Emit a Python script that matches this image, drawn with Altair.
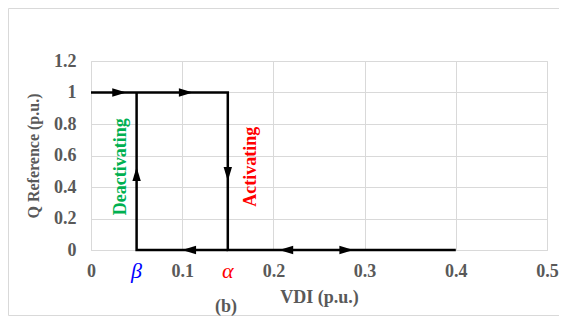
import altair as alt
import pandas as pd

# Hysteresis path (VDI, Q reference)
path_x = [0.0, 0.15, 0.15, 0.4]
path_y = [1.0, 1.0, 0.0, 0.0]
beta_x = [0.05, 0.05, 0.15]
beta_y = [1.0, 0.0, 0.0]

# Arrow heads: position and direction (degrees, clockwise from right)
arrow_x = [0.031, 0.104, 0.1075, 0.214, 0.28, 0.05, 0.15]
arrow_y = [1.0, 1.0, 0.0, 0.0, 0.0, 0.483, 0.483]
arrow_angle = [0, 0, 180, 180, 0, 270, 90]

x_ticks = [0, 0.1, 0.2, 0.3, 0.4, 0.5]
y_ticks = [0, 0.2, 0.4, 0.6, 0.8, 1.0, 1.2]

W, H = 456, 189
FONT = "Liberation Serif"
GRAY = "#595959"

df_path = pd.DataFrame({"x": path_x + beta_x,
                        "y": path_y + beta_y,
                        "seg": ["a"] * len(path_x) + ["b"] * len(beta_x),
                        "o": list(range(len(path_x))) + list(range(len(beta_x)))})
df_arrow = pd.DataFrame({"x": arrow_x, "y": arrow_y, "ang": arrow_angle})

xs = alt.Scale(domain=[0, 0.5], nice=False)
ys = alt.Scale(domain=[0, 1.2], nice=False)

x_axis = alt.Axis(values=x_ticks, title="VDI (p.u.)", labelFont=FONT, labelFontSize=18,
                  labelFontWeight="bold", labelColor=GRAY, titleFont=FONT, titleFontSize=18,
                  titleFontWeight="bold", titleColor=GRAY, ticks=False, labelPadding=12,
                  titlePadding=8, domainColor="#D9D9D9", gridColor="#D9D9D9",
                  labelOverlap=False, labelFlush=False, tickCount=6,
                  labelExpr="datum.value == 0 ? '0' : format(datum.value, '.1f')")
y_axis = alt.Axis(values=y_ticks, title="Q  Reference (p.u.)", labelFont=FONT, labelFontSize=18,
                  labelFontWeight="bold", labelColor=GRAY, titleFont=FONT, titleFontSize=16,
                  titleFontWeight="bold", titleColor=GRAY, ticks=False, labelPadding=15,
                  titlePadding=12, domain=False, gridColor="#D9D9D9",
                  labelOverlap=False, labelFlush=False, tickCount=7,
                  labelExpr="datum.value == 0 ? '0' : datum.value == 1 ? '1' : format(datum.value, '.1f')")

base = alt.Chart(df_path).mark_line(color="black", strokeWidth=2.5, clip=False).encode(
    x=alt.X("x:Q", scale=xs, axis=x_axis),
    y=alt.Y("y:Q", scale=ys, axis=y_axis),
    detail="seg:N",
    order="o:Q",
)

arrows = alt.Chart(df_arrow).mark_point(
    shape="M-1,-0.6L1,0L-1,0.6Z", filled=True, color="black", opacity=1, size=196, clip=False
).encode(x=alt.X("x:Q", scale=xs, axis=x_axis), y=alt.Y("y:Q", scale=ys, axis=y_axis),
         angle=alt.Angle("ang:Q", scale=None))


def label(text, xv, yv, **kw):
    return alt.Chart().mark_text(text=text, font=FONT, align="center", baseline="middle", **kw).encode(
        x=alt.datum(xv, scale=xs, axis=x_axis), y=alt.datum(yv, scale=ys, axis=y_axis))


deact = label("Deactivating", 0.0334, 0.528, fontSize=18, fontWeight="bold", color="#00B050", angle=270)
act = label("Activating", 0.175, 0.528, fontSize=18, fontWeight="bold", color="#FF0000", angle=270)
beta = label("β", 0.05, -0.135, fontSize=22, fontStyle="italic", color="#0000FF")
alpha = label("α", 0.15, -0.135, fontSize=22, fontStyle="italic", color="#FF0000")

blab = alt.Chart().mark_text(text="(b)", font=FONT, fontSize=18, fontWeight="bold",
                             color=GRAY, align="center", baseline="middle").encode(
    x=alt.value(135), y=alt.value(246))
frame = alt.Chart().mark_rect(fill="transparent", stroke="#D9D9D9", strokeWidth=1).encode(
    x=alt.value(-82.5), x2=alt.value(480), y=alt.value(-52.5), y2=alt.value(254.5))

chart = alt.layer(frame, base, arrows, deact, act, beta, alpha, blab).properties(
    width=W, height=H,
    autosize=alt.AutoSizeParams(type="none"),
    padding={"left": 83, "top": 53, "right": 12, "bottom": 66},
).configure_view(stroke="#D9D9D9").configure(background="white")

chart.save("out.html", embed_options={"renderer": "svg", "actions": False})
